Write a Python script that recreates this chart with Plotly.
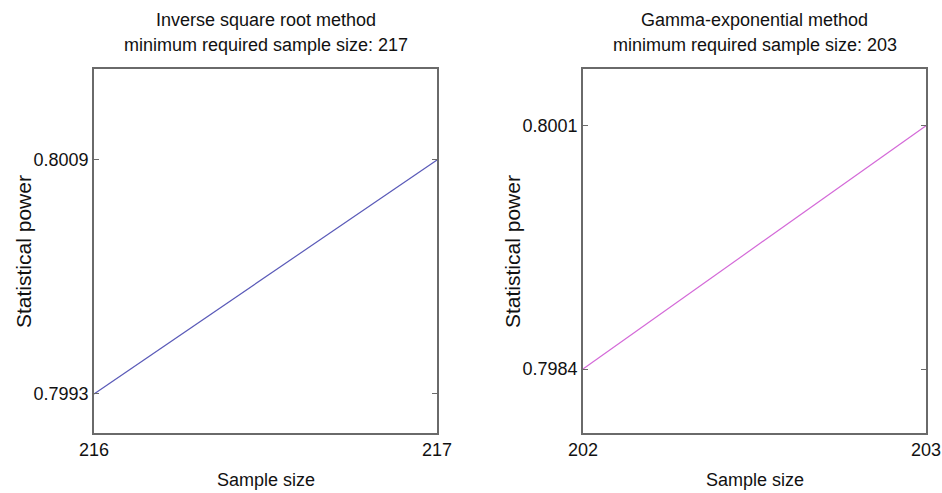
import plotly.graph_objects as go

# Data
left_title = ["Inverse square root method", "minimum required sample size: 217"]
right_title = ["Gamma-exponential method", "minimum required sample size: 203"]
left_x = [216, 217]
left_y = [0.7993, 0.8009]
right_x = [202, 203]
right_y = [0.7984, 0.8001]
x_label = "Sample size"
y_label = "Statistical power"

W, H = 942, 493
FONT = "Liberation Sans, Arial, sans-serif"

def px_x(x):
    return x / W

def px_y(y):
    return 1 - y / H

fig = go.Figure()
fig.add_trace(go.Scatter(x=left_x, y=left_y, mode="lines",
                         line=dict(color="#5a5ab8", width=1.2),
                         xaxis="x", yaxis="y", showlegend=False))
fig.add_trace(go.Scatter(x=right_x, y=right_y, mode="lines",
                         line=dict(color="#d46ad8", width=1.2),
                         xaxis="x2", yaxis="y2", showlegend=False))

ax_common = dict(showline=True, linecolor="#6a6a6a", linewidth=1.5, mirror="ticks",
                 ticks="inside", ticklen=5, tickcolor="#6a6a6a", tickwidth=1,
                 showgrid=False, zeroline=False, automargin=False,
                 tickfont=dict(family=FONT, size=18, color="#111"))

y_top, y_bot = 69, 433
fig.update_layout(
    width=W, height=H,
    margin=dict(l=0, r=0, t=0, b=0, autoexpand=False),
    paper_bgcolor="white", plot_bgcolor="white",
    xaxis=dict(domain=[px_x(94), px_x(437)], range=[216, 217],
               tickvals=left_x, ticktext=[str(v) for v in left_x], anchor="y", **ax_common),
    yaxis=dict(domain=[px_y(y_bot), px_y(y_top)], range=[0.799033, 0.801522],
               tickvals=left_y, ticktext=[f"{v:.4f}" for v in left_y], anchor="x", **ax_common),
    xaxis2=dict(domain=[px_x(583), px_x(926)], range=[202, 203],
                tickvals=right_x, ticktext=[str(v) for v in right_x], anchor="y2", **ax_common),
    yaxis2=dict(domain=[px_y(y_bot), px_y(y_top)], range=[0.797953, 0.800496],
                tickvals=right_y, ticktext=[f"{v:.4f}" for v in right_y], anchor="x2", **ax_common),
)

annotations = []
for cx, lines in [((94 + 437) / 2, left_title), ((583 + 926) / 2, right_title)]:
    for i, t in enumerate(lines):
        annotations.append(dict(text=t, x=px_x(cx), y=px_y(20 + 25 * i), xref="paper", yref="paper",
                                xanchor="center", yanchor="middle", showarrow=False,
                                font=dict(family=FONT, size=18, color="#111")))
    annotations.append(dict(text=x_label, x=px_x(cx), y=px_y(480), xref="paper", yref="paper",
                            xanchor="center", yanchor="middle", showarrow=False,
                            font=dict(family=FONT, size=18, color="#111")))
for cx in [23, 512]:
    annotations.append(dict(text=y_label, x=px_x(cx), y=px_y(252), xref="paper", yref="paper",
                            xanchor="center", yanchor="middle", showarrow=False, textangle=-90,
                            font=dict(family=FONT, size=21, color="#111")))
fig.update_layout(annotations=annotations)

fig.write_html("out.html", config={"displayModeBar": False},
               post_script="document.body.style.margin='0';document.body.style.overflow='hidden';")
